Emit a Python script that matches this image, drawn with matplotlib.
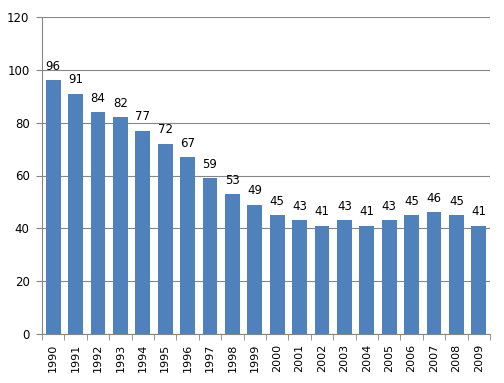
import numpy as np
import matplotlib.pyplot as plt

years = [str(y) for y in range(1990, 2010)]
values = [96, 91, 84, 82, 77, 72, 67, 59, 53, 49, 45, 43, 41, 43, 41, 43, 45, 46, 45, 41]

fig = plt.figure(figsize=(5.04, 3.83), dpi=100)
ax = fig.add_axes([42/504, 49/383, 448/504, 317/383])

x = np.arange(len(years))
ax.bar(x, values, width=0.66, color='#4F81BD', zorder=3)
for xi, v in zip(x, values):
    ax.text(xi, v + 2.8, str(v), ha='center', va='bottom', fontsize=8.5, color='black', zorder=4)

ax.set_ylim(0, 120)
ax.set_xlim(-0.5, len(years) - 0.5)
ax.set_yticks(np.arange(0, 121, 20))
ax.yaxis.grid(True, color='#868686', linewidth=0.8, zorder=0)
ax.set_xticks(x)
ax.set_xticklabels(years, rotation=90, fontsize=8)
ax.set_xticks(np.arange(-0.5, len(years), 1), minor=True)
ax.tick_params(axis='x', which='major', length=0, pad=7)
ax.tick_params(axis='x', which='minor', length=4, color='#868686')
ax.tick_params(axis='y', length=4, color='#868686', labelsize=8.5, pad=5)
for s in ['top', 'right']:
    ax.spines[s].set_visible(False)
for s in ['left', 'bottom']:
    ax.spines[s].set_color('#868686')
    ax.spines[s].set_linewidth(0.8)

fig.savefig('out.png', dpi=100)
